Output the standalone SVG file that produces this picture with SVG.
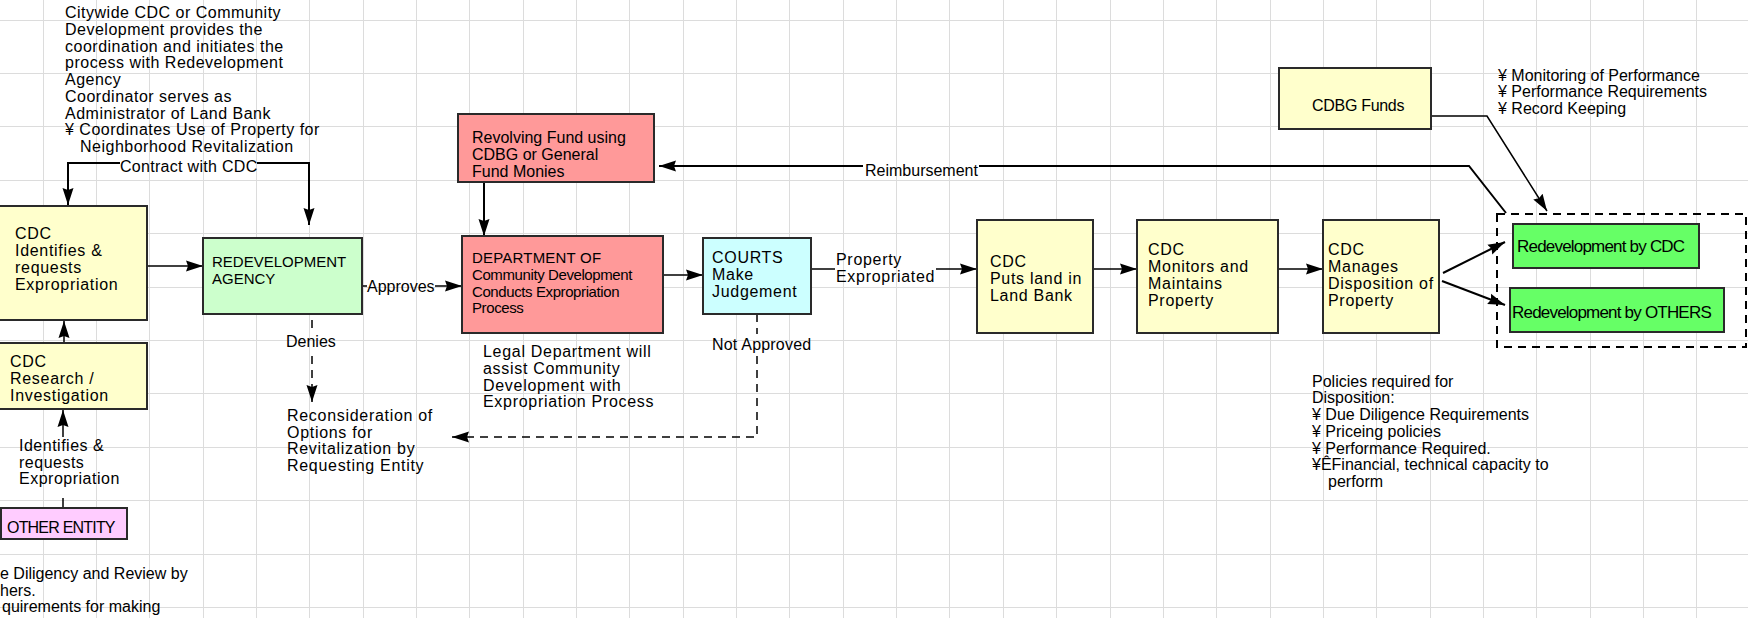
<svg xmlns="http://www.w3.org/2000/svg" width="1748" height="618" viewBox="0 0 1748 618">
  <style>
    .grid { stroke: #dcdcdc; stroke-width: 1; fill: none; }
    .box { stroke: #2a2a2a; stroke-width: 2; }
    .yellow { fill: #ffffcc; }
    .green { fill: #ccffcc; }
    .salmon { fill: #ff9999; }
    .cyan { fill: #ccffff; }
    .pink { fill: #ffccff; }
    .lime { fill: #66ff66; }
    text { font-family: "Liberation Sans", Arial, sans-serif; font-size: 16px; fill: #000; }
    .sp { letter-spacing: 0.7px; }
    .sp5 { letter-spacing: 0.5px; }
    .caps { font-size: 15px; }
    .dept { font-size: 15px; letter-spacing: -0.4px; }
    .tight { letter-spacing: -0.8px; }
    .redev { font-size: 17px; letter-spacing: -0.8px; }
    .line { stroke: #000; stroke-width: 2; fill: none; }
    .thin { stroke: #000; stroke-width: 1.5; fill: none; }
    .dash { stroke: #000; stroke-width: 1.5; fill: none; stroke-dasharray: 8 6; }
  </style>
  <defs>
    <marker id="ah" viewBox="0 0 17 12" refX="17" refY="6" markerWidth="17" markerHeight="12" markerUnits="userSpaceOnUse" orient="auto">
      <path d="M0,0.5 L17,6 L0,11.5 L2,6 z" fill="#000"/>
    </marker>
  </defs>

  <rect width="1748" height="618" fill="#ffffff"/>

  <!-- background grid -->
  <path class="grid" d="M43.5,0V618 M96.5,0V618 M149.5,0V618 M203.5,0V618 M256.5,0V618 M309.5,0V618 M363.5,0V618 M416.5,0V618 M469.5,0V618 M523.5,0V618 M576.5,0V618 M629.5,0V618 M683.5,0V618 M736.5,0V618 M789.5,0V618 M843.5,0V618 M896.5,0V618 M949.5,0V618 M1003.5,0V618 M1056.5,0V618 M1110.5,0V618 M1163.5,0V618 M1216.5,0V618 M1270.5,0V618 M1323.5,0V618 M1376.5,0V618 M1430.5,0V618 M1483.5,0V618 M1536.5,0V618 M1590.5,0V618 M1643.5,0V618 M1696.5,0V618 M0,20.5H1748 M0,73.5H1748 M0,126.5H1748 M0,180.5H1748 M0,233.5H1748 M0,287.5H1748 M0,340.5H1748 M0,393.5H1748 M0,447.5H1748 M0,500.5H1748 M0,554.5H1748 M0,607.5H1748"/>

  <!-- connectors -->
  <g id="connectors">
    <!-- Contract with CDC -->
    <path class="line" d="M120,163 H68 V205" marker-end="url(#ah)"/>
    <path class="line" d="M257,163 H309 V225" marker-end="url(#ah)"/>
    <text x="120" y="172" style="letter-spacing:0.3px">Contract with CDC</text>
    <!-- CDC identifies -> redevelopment agency -->
    <path class="thin" d="M147,266 H203" marker-end="url(#ah)"/>
    <!-- research -> identifies -->
    <path class="thin" d="M64,343 V321" marker-end="url(#ah)"/>
    <!-- other entity -> research -->
    <path class="thin" d="M63,508 V498"/>
    <path class="thin" d="M63,437 V410" marker-end="url(#ah)"/>
    <text class="sp5" x="19" y="451">Identifies &amp;</text>
    <text class="sp5" x="19" y="467.7">requests</text>
    <text class="sp5" x="19" y="484.4">Expropriation</text>
    <!-- approves -->
    <path class="thin" d="M362,286 H367"/>
    <path class="thin" d="M435,286 H462" marker-end="url(#ah)"/>
    <text x="367" y="292">Approves</text>
    <!-- denies -->
    <path class="dash" d="M312,306 V334"/>
    <path class="dash" d="M312,356 V402" marker-end="url(#ah)"/>
    <text x="286" y="347">Denies</text>
    <!-- revolving fund -> department -->
    <path class="line" d="M484,182 V236" marker-end="url(#ah)"/>
    <!-- department -> courts -->
    <path class="thin" d="M663,275 H703" marker-end="url(#ah)"/>
    <!-- property expropriated -->
    <path class="thin" d="M811,269 H835"/>
    <path class="thin" d="M936,269 H977" marker-end="url(#ah)"/>
    <text class="sp" x="836" y="265">Property</text>
    <text class="sp" x="836" y="281.7">Expropriated</text>
    <!-- not approved -->
    <path class="dash" d="M757,314 V334"/>
    <path class="dash" d="M757,356 V437 H452" marker-end="url(#ah)"/>
    <text x="712" y="350" style="letter-spacing:0.2px">Not Approved</text>
    <!-- land bank chain -->
    <path class="thin" d="M1093,269 H1137" marker-end="url(#ah)"/>
    <path class="thin" d="M1278,269 H1323" marker-end="url(#ah)"/>
    <path class="line" d="M1443,273 L1505,242" marker-end="url(#ah)"/>
    <path class="line" d="M1442,281 L1505,305" marker-end="url(#ah)"/>
    <!-- CDBG funds -> disposition group -->
    <path class="thin" d="M1431,116 H1487 L1547,211" marker-end="url(#ah)"/>
    <!-- reimbursement -->
    <path class="line" d="M1506,213 L1469,166 H979"/>
    <path class="line" d="M863,166 H659" marker-end="url(#ah)"/>
    <text x="865" y="176">Reimbursement</text>
  </g>

  <!-- nodes -->
  <g id="n-cdc-identifies">
    <rect class="box yellow" x="-4" y="206" width="151" height="114"/>
    <text class="sp" x="15" y="239">CDC</text>
    <text class="sp" x="15" y="256">Identifies &amp;</text>
    <text class="sp" x="15" y="273">requests</text>
    <text class="sp" x="15" y="290">Expropriation</text>
  </g>
  <g id="n-cdc-research">
    <rect class="box yellow" x="-4" y="343" width="151" height="66"/>
    <text class="sp" x="10" y="367">CDC</text>
    <text class="sp" x="10" y="384">Research /</text>
    <text class="sp" x="10" y="401">Investigation</text>
  </g>
  <g id="n-other-entity">
    <rect class="box pink" x="1" y="508" width="126" height="31"/>
    <text class="tight" x="7" y="533">OTHER ENTITY</text>
  </g>
  <g id="n-redevelopment-agency">
    <rect class="box green" x="203" y="238" width="159" height="76"/>
    <text class="caps" x="212" y="267">REDEVELOPMENT</text>
    <text class="caps" x="212" y="284">AGENCY</text>
  </g>
  <g id="n-revolving-fund">
    <rect class="box salmon" x="458" y="114" width="196" height="68"/>
    <text x="472" y="143">Revolving Fund using</text>
    <text x="472" y="160">CDBG or General</text>
    <text x="472" y="177">Fund Monies</text>
  </g>
  <g id="n-department">
    <rect class="box salmon" x="462" y="236" width="201" height="97"/>
    <text class="caps" x="472" y="263" style="letter-spacing:0.2px">DEPARTMENT OF</text>
    <text class="dept" x="472" y="280">Community Development</text>
    <text class="dept" x="472" y="297">Conducts Expropriation</text>
    <text class="dept" x="472" y="313">Process</text>
  </g>
  <g id="n-courts">
    <rect class="box cyan" x="703" y="238" width="108" height="76"/>
    <text class="sp" x="712" y="263">COURTS</text>
    <text class="sp" x="712" y="280">Make</text>
    <text class="sp" x="712" y="297">Judgement</text>
  </g>
  <g id="n-land-bank">
    <rect class="box yellow" x="977" y="220" width="116" height="113"/>
    <text class="sp" x="990" y="267">CDC</text>
    <text class="sp" x="990" y="284">Puts land in</text>
    <text class="sp" x="990" y="301">Land Bank</text>
  </g>
  <g id="n-monitors">
    <rect class="box yellow" x="1137" y="220" width="141" height="113"/>
    <text class="sp" x="1148" y="255">CDC</text>
    <text class="sp" x="1148" y="272">Monitors and</text>
    <text class="sp" x="1148" y="289">Maintains</text>
    <text class="sp" x="1148" y="306">Property</text>
  </g>
  <g id="n-manages">
    <rect class="box yellow" x="1323" y="220" width="116" height="113"/>
    <text class="sp" x="1328" y="255">CDC</text>
    <text class="sp" x="1328" y="272">Manages</text>
    <text class="sp" x="1328" y="289">Disposition of</text>
    <text class="sp" x="1328" y="306">Property</text>
  </g>
  <g id="n-cdbg-funds">
    <rect class="box yellow" x="1279" y="68" width="152" height="61"/>
    <text x="1312" y="111" style="letter-spacing:-0.3px">CDBG Funds</text>
  </g>
  <g id="n-disposition-group">
    <rect x="1497" y="214" width="249" height="133" fill="none" stroke="#000" stroke-width="2" stroke-dasharray="8 6"/>
  </g>
  <g id="n-redev-cdc">
    <rect class="box lime" x="1513" y="224" width="186" height="44"/>
    <text class="redev" x="1517" y="252">Redevelopment by CDC</text>
  </g>
  <g id="n-redev-others">
    <rect class="box lime" x="1510" y="288" width="214" height="44"/>
    <text class="redev" x="1512" y="318">Redevelopment by OTHERS</text>
  </g>

  <!-- notes -->
  <g id="notes">
    <text class="sp5" x="65" y="18.3">Citywide CDC or Community</text>
    <text class="sp5" x="65" y="35">Development provides the</text>
    <text class="sp5" x="65" y="51.7">coordination and initiates the</text>
    <text class="sp5" x="65" y="68.4">process with Redevelopment</text>
    <text class="sp5" x="65" y="85.1">Agency</text>
    <text class="sp5" x="65" y="101.8">Coordinator serves as</text>
    <text class="sp5" x="65" y="118.5">Administrator of Land Bank</text>
    <text class="sp5" x="65" y="135.2">¥ Coordinates Use of Property for</text>
    <text class="sp5" x="80" y="151.9">Neighborhood Revitalization</text>

    <text class="sp" x="483" y="357.3">Legal Department will</text>
    <text class="sp" x="483" y="374">assist Community</text>
    <text class="sp" x="483" y="390.7">Development with</text>
    <text class="sp" x="483" y="407.4">Expropriation Process</text>

    <text class="sp" x="287" y="421">Reconsideration of</text>
    <text class="sp" x="287" y="437.7">Options for</text>
    <text class="sp" x="287" y="454.4">Revitalization by</text>
    <text class="sp" x="287" y="471.1">Requesting Entity</text>

    <text x="1498" y="80.7">¥ Monitoring of Performance</text>
    <text x="1498" y="97.4">¥ Performance Requirements</text>
    <text x="1498" y="114.1">¥ Record Keeping</text>

    <text x="1312" y="386.7">Policies required for</text>
    <text x="1312" y="403.4">Disposition:</text>
    <text x="1312" y="420.1">¥ Due Diligence Requirements</text>
    <text x="1312" y="436.8">¥ Priceing policies</text>
    <text x="1312" y="453.5">¥ Performance Required.</text>
    <text x="1312" y="470.2">¥ÊFinancial, technical capacity to</text>
    <text x="1328" y="486.9">perform</text>

    <text x="0" y="579">e Diligency and Review by</text>
    <text x="0" y="595.5">hers.</text>
    <text x="2" y="612">quirements for making</text>
  </g>
</svg>
